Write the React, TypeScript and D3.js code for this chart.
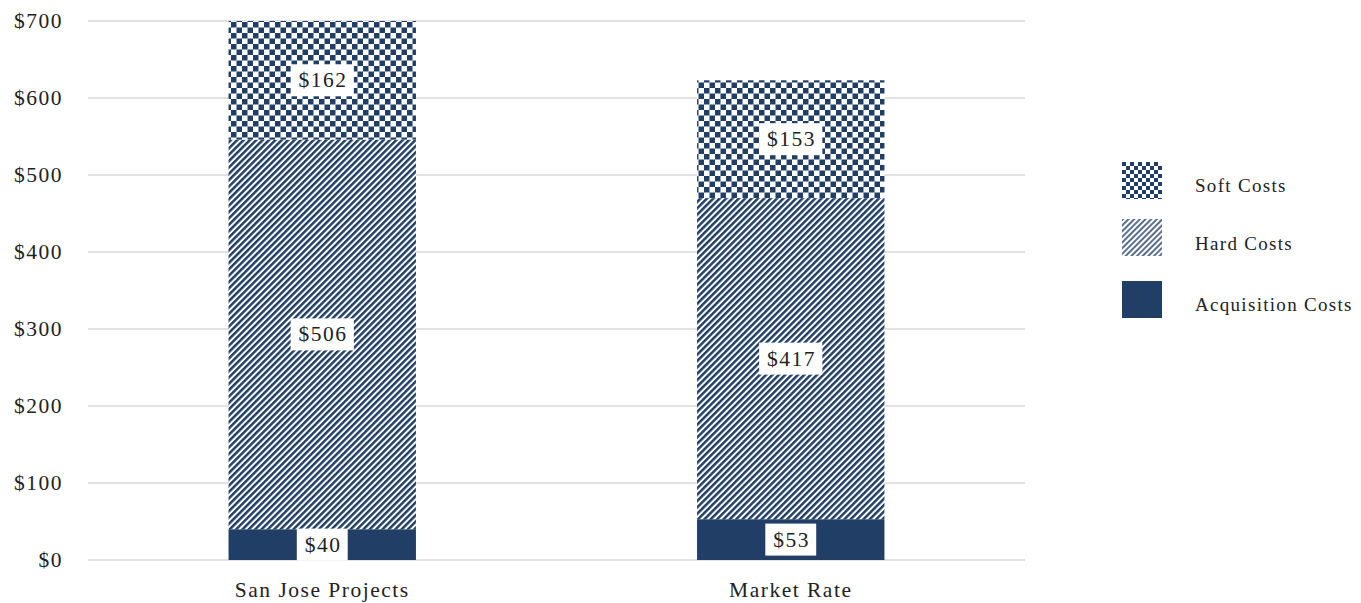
import React from "react";
import * as d3 from "d3";

const categories = ["San Jose Projects", "Market Rate"];
const seriesNames = ["Acquisition Costs", "Hard Costs", "Soft Costs"];
const acquisition = [40, 53];
const hard = [506, 417];
const soft = [162, 153];
const yTicks = [0, 100, 200, 300, 400, 500, 600, 700];

const W = 1361, H = 603;
const M = { left: 88, right: 336, top: 21, bottom: 43 };
const DARK = "#213f66";
const FONT = "'Liberation Serif', serif";
const FS = 21.5;
const LS = 1.5;

export default function App() {
  const x = d3.scaleBand().domain(categories).range([M.left, W - M.right]).paddingInner(0.6).paddingOuter(0.3);
  const y = d3.scaleLinear().domain([0, 700]).range([H - M.bottom, M.top]);
  const rows = categories.map((c, i) => ({ cat: c, a: acquisition[i], h: hard[i], s: soft[i] }));
  const stack = d3.stack<any>().keys(["a", "h", "s"])(rows);
  const fills = [DARK, "url(#diag)", "url(#check)"];
  const legendFills = [DARK, "url(#diagL)", "url(#checkL)"];
  const fmt = (v: number) => "$" + d3.format(",")(v);
  const labelW = (t: string) => t.length * 12.3 + 14;
  return (
    <svg width={W} height={H} style={{ position: "absolute", left: 0, top: 0 }} fontFamily={FONT}>
      <defs>
        <pattern id="check" width={11} height={11} patternUnits="userSpaceOnUse">
          <rect width={11} height={11} fill="#fff" />
          <rect width={5.5} height={5.5} fill={DARK} />
          <rect x={5.5} y={5.5} width={5.5} height={5.5} fill={DARK} />
        </pattern>
        <pattern id="checkL" width={8} height={8} patternUnits="userSpaceOnUse" x={1122} y={162}>
          <rect width={8} height={8} fill="#fff" />
          <rect width={4} height={4} fill={DARK} />
          <rect x={4} y={4} width={4} height={4} fill={DARK} />
        </pattern>
        <pattern id="diag" width={4.5} height={4.5} patternUnits="userSpaceOnUse" patternTransform="rotate(45)">
          <rect width={4.5} height={4.5} fill="#fff" />
          <rect width={2.5} height={4.5} fill={DARK} />
        </pattern>
        <pattern id="diagL" width={4} height={4} patternUnits="userSpaceOnUse" patternTransform="rotate(45)">
          <rect width={4} height={4} fill="#fff" />
          <rect width={2} height={4} fill="#5a6f8e" />
        </pattern>
        <clipPath id="plotClip">
          <rect x={0} y={M.top} width={W} height={H - M.bottom - M.top} />
        </clipPath>
      </defs>
      {yTicks.map((t) => (
        <g key={t}>
          <line x1={M.left} x2={W - M.right} y1={y(t)} y2={y(t)} stroke="#d9d9d9" strokeWidth={1.5} />
          <text x={63} y={y(t)} textAnchor="end" dominantBaseline="central" fontSize={FS} letterSpacing={LS} fill="#222">
            {fmt(t)}
          </text>
        </g>
      ))}
      <g clipPath="url(#plotClip)">
        {stack.map((layer, li) =>
          layer.map((d, i) => (
            <rect key={li + "-" + i} x={x(categories[i])} width={x.bandwidth()}
              y={y(d[1])} height={y(d[0]) - y(d[1])} fill={fills[li]} />
          ))
        )}
      </g>
      {stack.map((layer, li) =>
        layer.map((d, i) => {
          const v = d[1] - d[0];
          const cy = y((d[0] + Math.min(d[1], 700)) / 2);
          const cx = x(categories[i])! + x.bandwidth() / 2;
          const t = fmt(v);
          const w = labelW(t);
          return (
            <g key={"l" + li + "-" + i}>
              <rect x={cx - w / 2} y={cy - 16} width={w} height={32} fill="#fff" />
              <text x={cx + LS / 2} y={cy} textAnchor="middle" dominantBaseline="central" fontSize={FS} letterSpacing={LS} fill="#222">{t}</text>
            </g>
          );
        })
      )}
      {categories.map((c) => (
        <text key={c} x={x(c)! + x.bandwidth() / 2} y={590} textAnchor="middle" dominantBaseline="central" fontSize={FS} letterSpacing={LS} fill="#222">{c}</text>
      ))}
      {[2, 1, 0].map((si, k) => (
        <g key={si}>
          <rect x={1122} y={[162, 219, 281][k]} width={40} height={37} fill={legendFills[si]} />
          <text x={1195} y={[185, 243, 304][k]} dominantBaseline="central" fontSize={19} letterSpacing={1.3} fill="#222">{seriesNames[si]}</text>
        </g>
      ))}
    </svg>
  );
}
